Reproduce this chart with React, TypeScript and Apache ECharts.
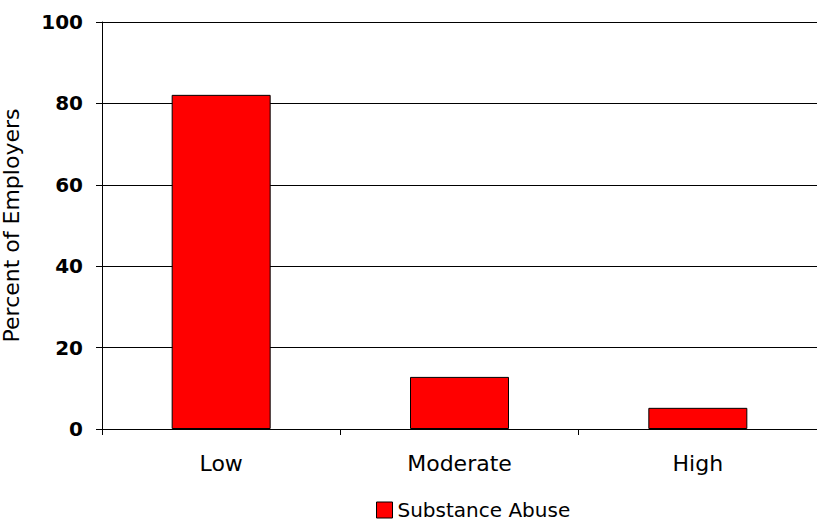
import React, { useEffect, useRef } from "react";
import * as echarts from "echarts";

const categories = ["Low", "Moderate", "High"];
const substanceAbuse = [82.1, 12.8, 5.2];
const yTicks = { min: 0, max: 100, interval: 20 };

export default function App() {
  const ref = useRef<HTMLDivElement>(null);
  useEffect(() => {
    const chart = echarts.init(ref.current!, null, { renderer: "svg" });
    chart.setOption({
      animation: false,
      backgroundColor: "#ffffff",
      textStyle: { fontFamily: "DejaVu Sans" },
      grid: {
        left: 102,
        right: 0,
        top: 22,
        bottom: 93,
        containLabel: false,
        outerBoundsMode: "none",
      },
      legend: {
        data: ["Substance Abuse"],
        left: 376,
        top: 500,
        padding: 0,
        itemWidth: 16,
        itemHeight: 16,
        itemGap: 6,
        icon: "rect",
        itemStyle: { borderColor: "#000", borderWidth: 1 },
        textStyle: {
          fontSize: 20,
          lineHeight: 20,
          color: "#000",
          fontFamily: "DejaVu Sans",
        },
      },
      xAxis: {
        type: "category",
        data: categories,
        axisLine: { lineStyle: { color: "#000", width: 1 } },
        axisTick: { show: true, length: 6, lineStyle: { color: "#000" } },
        axisLabel: { fontSize: 22, color: "#000", margin: 23, fontFamily: "DejaVu Sans" },
      },
      yAxis: {
        type: "value",
        min: yTicks.min,
        max: yTicks.max,
        interval: yTicks.interval,
        name: "Percent of Employers",
        nameLocation: "middle",
        nameGap: 80,
        nameTextStyle: { fontSize: 22, color: "#000", fontFamily: "DejaVu Sans" },
        axisLine: { show: true, lineStyle: { color: "#000", width: 1 } },
        axisTick: { show: true, length: 6, lineStyle: { color: "#000" } },
        axisLabel: { fontSize: 20, fontWeight: "bold", color: "#000", margin: 19, fontFamily: "DejaVu Sans" },
        splitLine: { show: true, lineStyle: { color: "#000", width: 1 } },
      },
      series: [
        {
          name: "Substance Abuse",
          type: "bar",
          data: substanceAbuse,
          barWidth: 99,
          itemStyle: { color: "#ff0000", borderColor: "#000", borderWidth: 1 },
        },
      ],
    });
    return () => chart.dispose();
  }, []);
  return (
    <div
      ref={ref}
      style={{ position: "fixed", left: 0, top: 0, width: 817, height: 522 }}
    />
  );
}
